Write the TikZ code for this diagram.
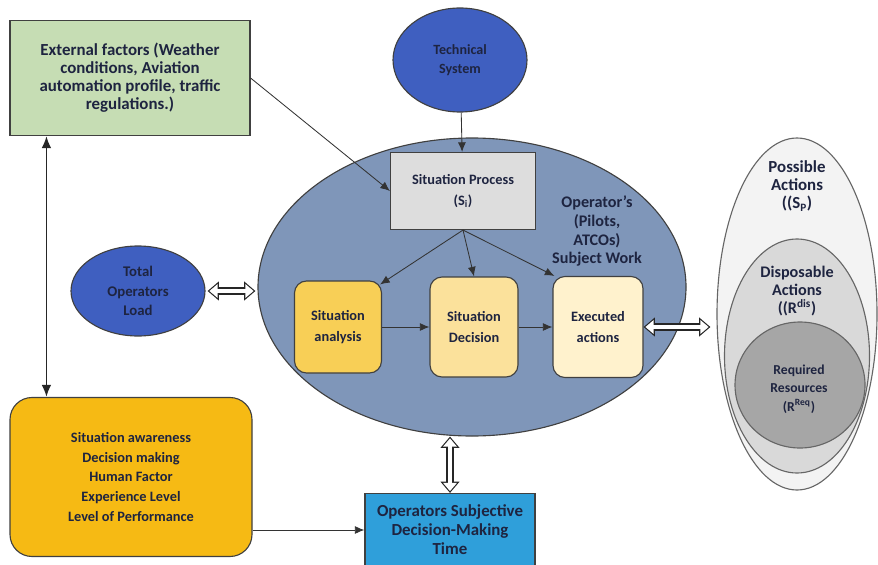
\documentclass[tikz,border=0pt]{standalone}
\usepackage{fontspec}
\setmainfont{Carlito}
\usetikzlibrary{shapes.geometric,arrows.meta}

\definecolor{extgreen}{HTML}{C6DDB4}
\definecolor{sysblue}{HTML}{3F5FC0}
\definecolor{workblue}{HTML}{7F96B9}
\definecolor{procgray}{HTML}{DDDDDD}
\definecolor{anagold}{HTML}{F8CF56}
\definecolor{decgold}{HTML}{FBE19B}
\definecolor{execgold}{HTML}{FFF2CD}
\definecolor{humanamber}{HTML}{F6BA14}
\definecolor{timeblue}{HTML}{2F9FDA}
\definecolor{possgray}{HTML}{F3F3F3}
\definecolor{dispgray}{HTML}{D9D9D9}
\definecolor{reqgray}{HTML}{A6A6A6}
\definecolor{inkdark}{HTML}{1E2440}

\begin{document}
\begin{tikzpicture}[x=0.025cm,y=-0.025cm]

\def\unit{0.025cm}

\tikzset{box/.style = {draw=black!75, line width=0.8pt, align=center, inner sep=0pt, text=inkdark, font=\bfseries},
         blob/.style = {box, ellipse},
         step box/.style = {box, rounded corners=12*\unit},
         flow/.style = {-{Latex[length=2.4mm,width=2mm]}, line width=0.6pt, black!80},
         hollow/.style = {color=white, line width=3.4pt, shorten >=1.3pt, shorten <=1.3pt,
                          {Triangle[length=5.9pt,width=9.6pt]}-{Triangle[length=5.9pt,width=9.6pt]},
                          preaction={draw, color=black!85, line width=5pt, shorten >=0pt, shorten <=0pt,
                                     {Triangle[length=8pt,width=13pt]}-{Triangle[length=8pt,width=13pt]}}},
         lbl/.style = {align=center, inner sep=0pt, text=inkdark, font=\bfseries}}

\useasboundingbox (0,0) rectangle (878,564);

% right hand sets
\node[blob, fill=possgray, draw=black!60, minimum width=160*\unit, minimum height=352*\unit] (poss) at (797,314) {};
\node[blob, fill=dispgray, draw=black!60, minimum width=145*\unit, minimum height=234*\unit] (disp) at (797,356) {};
\node[blob, fill=reqgray, draw=black!60, minimum width=130*\unit, minimum height=126*\unit] (req) at (800,385) {};
\node[lbl, font=\bfseries\fontsize{12}{13}\selectfont] (possl) at (797,186) {Possible\\Actions\\((S\textsubscript{P})};
\node[lbl, font=\bfseries\fontsize{11.5}{13}\selectfont] (displ) at (797,291) {Disposable\\Actions\\((R\textsuperscript{dis})};
\node[lbl, font=\bfseries\fontsize{9.7}{13}\selectfont] (reql) at (799,389) {Required\\Resources\\(R\textsuperscript{Req})};

% operator work
\node[blob, fill=workblue, minimum width=428*\unit, minimum height=298*\unit] (opw) at (472,287) {};
\node[lbl, font=\bfseries\fontsize{11.5}{13.5}\selectfont, text=inkdark] (opwl) at (597,231) {Operator's\\(Pilots,\\ATCOs)\\Subject Work};

\node[box, fill=procgray, minimum width=145*\unit, minimum height=77*\unit, font=\bfseries\fontsize{10.2}{15}\selectfont] (sp) at (463,191) {Situation Process\\(S\textsubscript{i})};

\node[step box, fill=anagold, minimum width=87*\unit, minimum height=92*\unit, font=\bfseries\fontsize{10.2}{15}\selectfont] (sa) at (338,327) {Situation\\analysis};
\node[step box, fill=decgold, minimum width=88*\unit, minimum height=100*\unit, font=\bfseries\fontsize{10.2}{15}\selectfont] (sd) at (474,327) {Situation\\Decision};
\node[step box, fill=execgold, minimum width=90*\unit, minimum height=101*\unit, font=\bfseries\fontsize{10.2}{15}\selectfont] (ea) at (598,327) {Executed\\actions};

% outside
\node[box, fill=extgreen, minimum width=240*\unit, minimum height=115*\unit, font=\bfseries\fontsize{12}{12.8}\selectfont] (ext) at (130,78) {External factors (Weather\\conditions, Aviation\\automation profile, traffic\\regulations.)};
\node[blob, fill=sysblue, minimum width=134*\unit, minimum height=104*\unit, font=\bfseries\fontsize{10}{13.5}\selectfont] (tech) at (460,60) {Technical\\System};
\node[blob, fill=sysblue, minimum width=134*\unit, minimum height=90*\unit, font=\bfseries\fontsize{10.5}{14}\selectfont] (tol) at (138,291) {Total\\Operators\\Load};
\node[box, fill=humanamber, rounded corners=22*\unit, minimum width=242*\unit, minimum height=159*\unit, font=\bfseries\fontsize{10.2}{14.2}\selectfont] (human) at (131,477) {Situation awareness\\Decision making\\Human Factor\\Experience Level\\Level of Performance};
\node[box, fill=timeblue, minimum width=170*\unit, minimum height=73*\unit, font=\bfseries\fontsize{12}{13.5}\selectfont] (time) at (450,530) {Operators Subjective\\Decision-Making\\Time};

% connectors
\draw[flow] (tech) -- (sp);
\draw[flow] (ext.east) -- (sp.west);
\draw[flow] (sp.south) -- ([xshift=-2*\unit,yshift=-4*\unit]sa.north east);
\draw[flow] (sp.south) -- (sd.north);
\draw[flow] (sp.south) -- ([xshift=2*\unit]ea.north west);
\draw[flow] (sa) -- (sd);
\draw[flow] (sd) -- (ea);
\draw[flow] (human.east |- time.west) -- (time.west);
\draw[{Latex[length=3mm,width=2.4mm]}-{Latex[length=3mm,width=2.4mm]}, line width=1.3pt, black!85]
  ([xshift=37*\unit]ext.south west) -- ([xshift=37*\unit]human.north west);

\draw[hollow] ([xshift=2*\unit]tol.east) -- ([xshift=-2*\unit]tol.east -| opw.west);
\draw[hollow] (ea.east) -- ([xshift=-6*\unit]ea.east -| poss.west);
\draw[hollow] (time.north) -- (time.north |- opw.south);

\end{tikzpicture}
\end{document}
